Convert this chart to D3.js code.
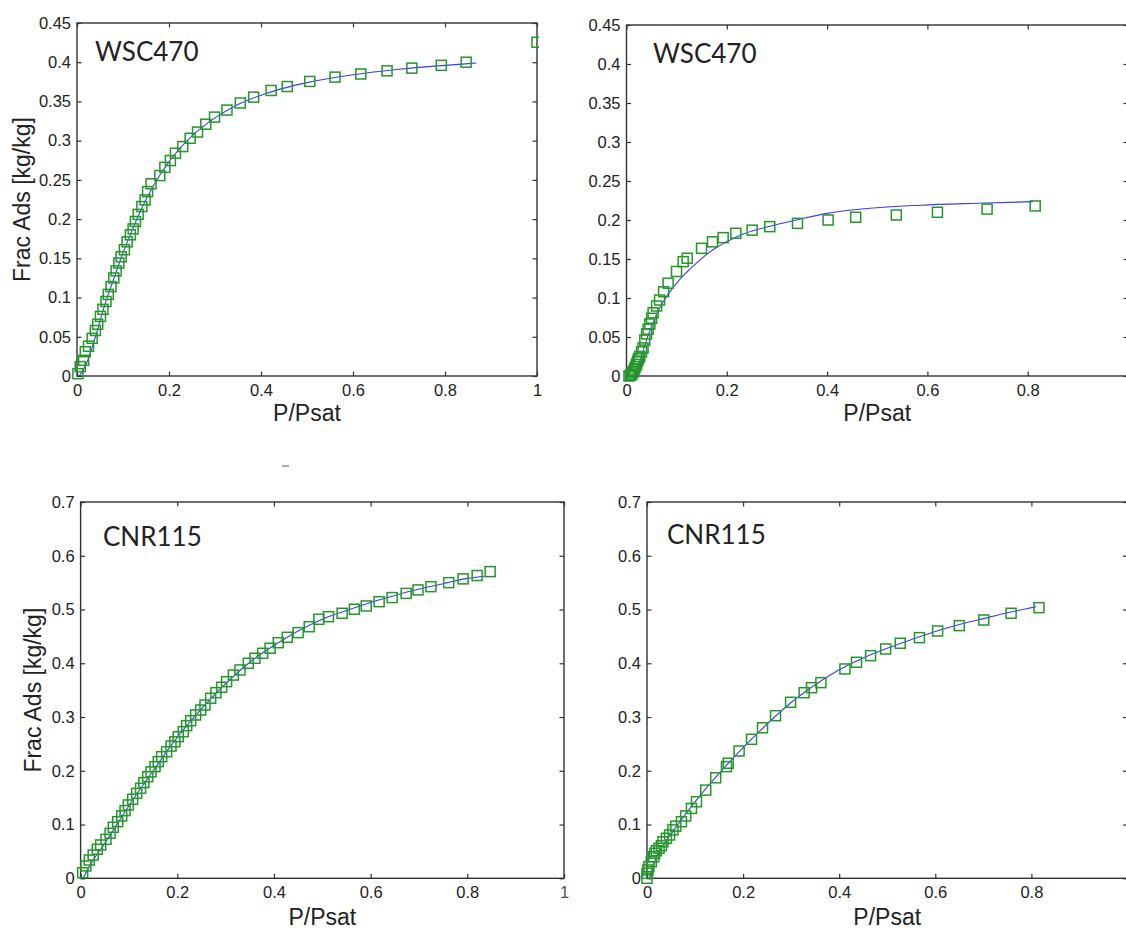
<!DOCTYPE html>
<html>
<head>
<meta charset="utf-8">
<script src="https://cdn.jsdelivr.net/npm/d3@7"></script>
<style>
  html, body { margin: 0; padding: 0; background: #fff; }
  svg { display: block; }
  text { font-family: "Liberation Sans", Arial, sans-serif; fill: #222; }
</style>
</head>
<body>
<svg id="chart" width="1126" height="929"></svg>
<script>
// ---------- tick labels ----------
const xTicks = [0, 0.2, 0.4, 0.6, 0.8, 1];
const yTicksWSC = [0, 0.05, 0.1, 0.15, 0.2, 0.25, 0.3, 0.35, 0.4, 0.45];
const yTicksCNR = [0, 0.1, 0.2, 0.3, 0.4, 0.5, 0.6, 0.7];
const titles = ["WSC470", "WSC470", "CNR115", "CNR115"];
const xLabel = "P/Psat";
const yLabel = "Frac Ads [kg/kg]";

// ---------- panel A: WSC470 (top-left) ----------
const wscA_x = [0.002,0.007,0.0145,0.018,0.025,0.033,0.040,0.045,0.051,0.0565,0.063,0.068,0.074,0.080,0.085,0.091,0.096,0.103,0.109,0.116,0.122,0.127,0.133,0.141,0.148,0.1535,0.161,0.180,0.191,0.203,0.214,0.230,0.246,0.262,0.280,0.299,0.326,0.355,0.384,0.422,0.457,0.506,0.561,0.617,0.674,0.728,0.792,0.846,1.0];
const wscA_y = [0.003,0.012,0.020,0.031,0.038,0.048,0.058,0.066,0.076,0.085,0.095,0.104,0.114,0.125,0.134,0.144,0.152,0.161,0.171,0.180,0.1875,0.197,0.206,0.216,0.2245,0.235,0.245,0.2555,0.266,0.2746,0.284,0.2925,0.303,0.311,0.321,0.330,0.339,0.348,0.3555,0.364,0.369,0.3755,0.381,0.385,0.389,0.3925,0.396,0.400,0.4255];
const wscA_fitX = [0.005,0.02,0.04,0.06,0.08,0.1,0.12,0.15,0.18,0.2,0.25,0.3,0.35,0.4,0.45,0.5,0.6,0.7,0.8,0.868];
const wscA_fitY = [0.0,0.015,0.05,0.09,0.124,0.157,0.186,0.225,0.256,0.273,0.306,0.329,0.346,0.358,0.367,0.374,0.384,0.391,0.396,0.399];

// ---------- panel B: WSC470 (top-right) ----------
const wscB_x = [0.005,0.008,0.010,0.012,0.014,0.016,0.018,0.020,0.022,0.024,0.0265,0.030,0.033,0.0365,0.040,0.043,0.0465,0.050,0.053,0.060,0.066,0.074,0.083,0.0997,0.113,0.121,0.1496,0.1715,0.1927,0.218,0.2505,0.2857,0.341,0.402,0.457,0.538,0.620,0.719,0.815];
const wscB_y = [0.0,0.001,0.002,0.004,0.006,0.009,0.012,0.015,0.019,0.022,0.025,0.031,0.036,0.046,0.054,0.060,0.0667,0.074,0.081,0.0897,0.0974,0.108,0.119,0.134,0.1466,0.151,0.1637,0.172,0.1774,0.183,0.187,0.1915,0.1957,0.200,0.2035,0.2064,0.2099,0.214,0.218];
const wscB_fitX = [0.017,0.022,0.03,0.04,0.05,0.06,0.075,0.09,0.105,0.12,0.14,0.16,0.18,0.2,0.233,0.286,0.339,0.4,0.459,0.587,0.7,0.81];
const wscB_fitY = [0.0,0.01,0.026,0.046,0.064,0.079,0.097,0.111,0.123,0.133,0.145,0.156,0.165,0.172,0.182,0.192,0.2,0.2085,0.2135,0.219,0.2215,0.2235];

// ---------- panel C: CNR115 (bottom-left) ----------
const cnrA_x = [0.0043,0.011,0.018,0.026,0.0346,0.0415,0.0525,0.061,0.0677,0.0767,0.085,0.092,0.0987,0.1077,0.116,0.124,0.131,0.1388,0.1456,0.154,0.1607,0.1677,0.178,0.187,0.195,0.202,0.2124,0.2194,0.2277,0.238,0.2484,0.2573,0.269,0.280,0.2918,0.302,0.316,0.3297,0.3469,0.3607,0.3766,0.392,0.4089,0.4275,0.450,0.473,0.4929,0.5127,0.541,0.5663,0.5909,0.6176,0.6445,0.6734,0.6979,0.7247,0.7615,0.7913,0.8203,0.8472];
const cnrA_y = [0.0104,0.023,0.034,0.0433,0.054,0.062,0.0725,0.0837,0.0949,0.1053,0.116,0.126,0.1364,0.147,0.158,0.1674,0.178,0.189,0.198,0.2077,0.217,0.2262,0.2355,0.246,0.254,0.2634,0.2727,0.284,0.2932,0.3038,0.313,0.3224,0.3349,0.3453,0.3553,0.3658,0.378,0.3875,0.400,0.4093,0.4186,0.428,0.4383,0.4483,0.457,0.468,0.4818,0.4867,0.493,0.5005,0.5066,0.5146,0.5222,0.530,0.5364,0.5425,0.550,0.557,0.5632,0.5705];
const cnrA_fitX = [0.005,0.02,0.05,0.1,0.15,0.2,0.25,0.3,0.35,0.4,0.45,0.5,0.55,0.6,0.65,0.7,0.75,0.8,0.836];
const cnrA_fitY = [0.0,0.025,0.065,0.135,0.2,0.262,0.315,0.362,0.402,0.433,0.46,0.482,0.498,0.513,0.526,0.538,0.548,0.558,0.562];

// ---------- panel D: CNR115 (bottom-right) ----------
const cnrB_x = [0.0,0.0,0.002,0.004,0.009,0.014,0.016,0.0195,0.025,0.030,0.0333,0.0404,0.047,0.054,0.060,0.0717,0.0806,0.0925,0.103,0.1223,0.143,0.1654,0.169,0.1917,0.2175,0.2404,0.2675,0.2988,0.327,0.3425,0.3619,0.4119,0.436,0.4654,0.4967,0.527,0.567,0.6048,0.650,0.701,0.7577,0.8158];
const cnrB_y = [0.0,0.0093,0.0155,0.0216,0.031,0.040,0.0465,0.0514,0.0558,0.0607,0.068,0.0744,0.0806,0.090,0.097,0.1053,0.116,0.130,0.1425,0.164,0.187,0.2077,0.214,0.2368,0.2586,0.280,0.3025,0.3274,0.3453,0.3546,0.364,0.3894,0.4018,0.4142,0.4266,0.4372,0.4477,0.460,0.470,0.4805,0.493,0.5035];
const cnrB_fitX = [0.005,0.02,0.05,0.1,0.15,0.2,0.25,0.3,0.35,0.4,0.45,0.5,0.55,0.6,0.65,0.7,0.75,0.81];
const cnrB_fitY = [0.0,0.04,0.082,0.142,0.195,0.243,0.287,0.327,0.36,0.388,0.41,0.428,0.444,0.459,0.472,0.483,0.494,0.505];

// ---------- layout ----------
const panels = [
  { box: {l: 77, t: 23, r: 537, b: 376}, yMax: 0.45, yTicks: yTicksWSC, title: titles[0], tx: 95, ty: 61,
    px: wscA_x, py: wscA_y, fx: wscA_fitX, fy: wscA_fitY, showY: true, yLabX: 22, xLabY: 421 },
  { box: {l: 626.5, t: 25, r: 1128, b: 376}, yMax: 0.45, yTicks: yTicksWSC, title: titles[1], tx: 653, ty: 63,
    px: wscB_x, py: wscB_y, fx: wscB_fitX, fy: wscB_fitY, showY: false, xLabY: 421, hideOne: true },
  { box: {l: 80.6, t: 502, r: 564, b: 878.3}, yMax: 0.7, yTicks: yTicksCNR, title: titles[2], tx: 103, ty: 546,
    px: cnrA_x, py: cnrA_y, fx: cnrA_fitX, fy: cnrA_fitY, showY: true, yLabX: 33, xLabY: 925, faintOne: true },
  { box: {l: 647, t: 502, r: 1127.5, b: 878.3}, yMax: 0.7, yTicks: yTicksCNR, title: titles[3], tx: 667, ty: 544,
    px: cnrB_x, py: cnrB_y, fx: cnrB_fitX, fy: cnrB_fitY, showY: false, xLabY: 925, hideOne: true }
];

const svg = d3.select("#chart");
svg.append("rect").attr("width", 1126).attr("height", 929).attr("fill", "#fff");

const fmt = d => String(d);
const TICK = 4.5;

panels.forEach((p, i) => {
  const B = p.box, W = B.r - B.l, H = B.b - B.t;
  const x = d3.scaleLinear().domain([0, 1]).range([0, W]);
  const y = d3.scaleLinear().domain([0, p.yMax]).range([H, 0]);
  const g = svg.append("g").attr("transform", `translate(${B.l},${B.t})`);

  const clipId = "clip" + i;
  g.append("clipPath").attr("id", clipId).append("rect")
    .attr("x", -20).attr("y", -20).attr("width", W + 22).attr("height", H + 40);

  // axes (MATLAB-style box with inward ticks)
  const styleAxis = sel => {
    sel.select(".domain").remove();
    sel.selectAll(".tick line").attr("stroke", "#333").attr("stroke-width", 1.2);
    sel.selectAll(".tick text").style("font-size", "16.5px").attr("fill", "#222");
  };
  g.append("g").attr("transform", `translate(0,${H})`)
    .call(d3.axisBottom(x).tickValues(xTicks).tickFormat(fmt).tickSizeInner(-TICK).tickSizeOuter(0).tickPadding(8))
    .call(styleAxis)
    .call(s => {
      if (p.faintOne) s.selectAll(".tick text").filter(d => d === 1).attr("fill", "#d8b45a").attr("opacity", 0.8);
      if (p.hideOne) s.selectAll(".tick text").filter(d => d === 1).remove();
    });
  g.append("g")
    .call(d3.axisTop(x).tickValues(xTicks).tickFormat("").tickSizeInner(-TICK).tickSizeOuter(0))
    .call(styleAxis);
  g.append("g")
    .call(d3.axisLeft(y).tickValues(p.yTicks).tickFormat(fmt).tickSizeInner(-TICK).tickSizeOuter(0).tickPadding(6))
    .call(styleAxis);
  g.append("g").attr("transform", `translate(${W},0)`)
    .call(d3.axisRight(y).tickValues(p.yTicks).tickFormat("").tickSizeInner(-TICK).tickSizeOuter(0))
    .call(styleAxis);

  // frame
  g.append("rect").attr("width", W).attr("height", H)
    .attr("fill", "none").attr("stroke", "#333").attr("stroke-width", 1.4);

  // fitted curve
  const fit = p.fx.map((v, k) => [v, p.fy[k]]);
  g.append("path").datum(fit)
    .attr("fill", "none").attr("stroke", "#3a3aff").attr("stroke-width", 1.1)
    .attr("d", d3.line().x(d => x(d[0])).y(d => y(d[1])).curve(d3.curveMonotoneX));

  // data markers (open squares)
  const pts = p.px.map((v, k) => [v, p.py[k]]);
  const S = 10;
  g.append("g").attr("clip-path", `url(#${clipId})`)
    .selectAll("rect.pt").data(pts).join("rect").attr("class", "pt")
    .attr("x", d => x(d[0]) - S / 2).attr("y", d => y(d[1]) - S / 2)
    .attr("width", S).attr("height", S)
    .attr("fill", "none").attr("stroke", "#24962a").attr("stroke-width", 1.5);

  // title
  g.append("text").attr("x", p.tx - B.l).attr("y", p.ty - B.t)
    .style("font-family", "Lato, 'Open Sans', sans-serif").style("font-size", "26px")
    .attr("fill", "#111").text(p.title);

  // axis labels
  svg.append("text").attr("x", B.l + W / 2).attr("y", p.xLabY)
    .attr("text-anchor", "middle").style("font-size", "23px").attr("fill", "#111").text(xLabel);
  if (p.showY) {
    svg.append("text")
      .attr("transform", `translate(${p.yLabX},${B.t + H / 2}) rotate(-90)`)
      .attr("text-anchor", "middle").attr("dy", "0.35em")
      .style("font-size", "23px").attr("fill", "#111").text(yLabel);
  }
});

// small stray mark between the rows (present in the source figure)
svg.append("line").attr("x1", 282).attr("x2", 289).attr("y1", 466).attr("y2", 466)
  .attr("stroke", "#777").attr("stroke-width", 1.2);
</script>
</body>
</html>
